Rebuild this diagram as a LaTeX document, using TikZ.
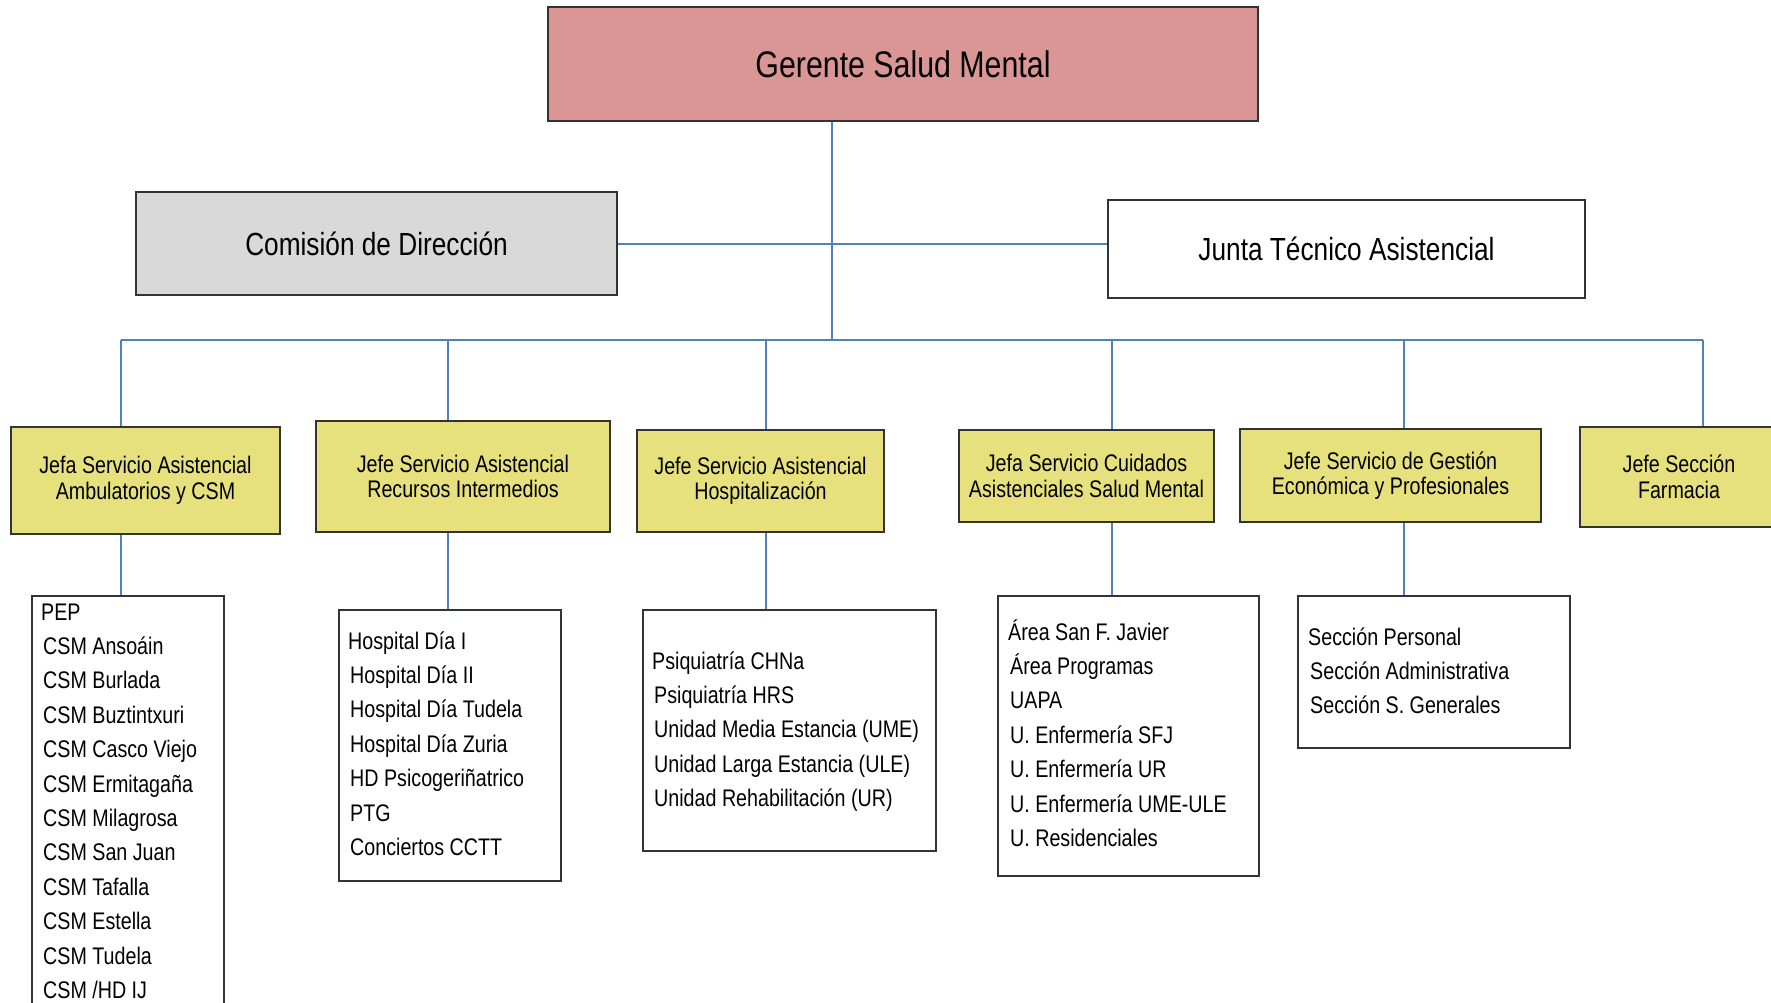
\documentclass[tikz,border=0pt]{standalone}
\usepackage{fontspec}
\setmainfont{Liberation Sans}[FakeStretch=0.82]
\definecolor{gerentecol}{RGB}{218,150,148}
\definecolor{jefecol}{RGB}{230,224,125}
\definecolor{comcol}{RGB}{217,217,217}
\definecolor{conncol}{RGB}{79,129,189}
\tikzset{
  box/.style={draw=black!80, line width=1.6pt, inner sep=0pt, align=center},
  jefebox/.style={box, fill=jefecol, font=\fontsize{24}{25.5}\selectfont},
  listbox/.style={draw=black!80, line width=1.4pt, inner sep=0pt},
  item/.style={anchor=base west, inner sep=0pt, font=\fontsize{24}{28}\selectfont},
  conn/.style={draw=conncol, line width=2pt},
}
\begin{document}
\begin{tikzpicture}[x=1pt,y=-1pt]
\useasboundingbox (0,0) rectangle (1771,1003);
% top level
\node[box, fill=gerentecol, minimum width=710pt, minimum height=114pt, font=\fontsize{37}{40}\selectfont] (ger) at (903,64) {Gerente Salud Mental};
\node[box, fill=comcol, minimum width=481pt, minimum height=103pt, font=\fontsize{32}{35}\selectfont] (com) at (376.5,243.5) {Comisión de Dirección};
\node[box, fill=white, minimum width=477pt, minimum height=98pt, font=\fontsize{32}{35}\selectfont] (jta) at (1346.5,249) {Junta Técnico Asistencial};
% jefes
\node[jefebox, minimum width=269pt, minimum height=107pt] (j1) at (145.5,480.5) {Jefa Servicio Asistencial\\Ambulatorios y CSM};
\node[jefebox, minimum width=294pt, minimum height=111pt] (j2) at (463,476.5) {Jefe Servicio Asistencial\\Recursos Intermedios};
\node[jefebox, minimum width=247pt, minimum height=102pt] (j3) at (760.5,481) {Jefe Servicio Asistencial\\Hospitalización};
\node[jefebox, minimum width=255pt, minimum height=92pt] (j4) at (1086.5,476) {Jefa Servicio Cuidados\\Asistenciales Salud Mental};
\node[jefebox, minimum width=301pt, minimum height=93pt] (j5) at (1390.5,475.5) {Jefe Servicio de Gestión\\Económica y Profesionales};
\node[jefebox, minimum width=198pt, minimum height=100pt] (j6) at (1679,477) {Jefe Sección\\Farmacia};
% list boxes
\node[listbox, minimum width=192pt, minimum height=414pt] (l1) at (128,803) {};
\node[listbox, minimum width=222pt, minimum height=271pt] (l2) at (450,745.5) {};
\node[listbox, minimum width=293pt, minimum height=241pt] (l3) at (789.5,730.5) {};
\node[listbox, minimum width=261pt, minimum height=280pt] (l4) at (1128.5,736) {};
\node[listbox, minimum width=272pt, minimum height=152pt] (l5) at (1434,672) {};
% list items
\foreach \t [count=\i from 0] in {PEP, CSM Ansoáin, CSM Burlada, CSM Buztintxuri, CSM Casco Viejo, CSM Ermitagaña, CSM Milagrosa, CSM San Juan, CSM Tafalla, CSM Estella, CSM Tudela, CSM /HD IJ}
  \node[item] (a\i) at ({\i==0 ? 41 : 43}, {620+34.4*\i}) {\t};
\foreach \t [count=\i from 0] in {Hospital Día I, Hospital Día II, Hospital Día Tudela, Hospital Día Zuria, HD Psicogeriñatrico, PTG, Conciertos CCTT}
  \node[item] (b\i) at ({\i==0 ? 348 : 350}, {649+34.4*\i}) {\t};
\foreach \t [count=\i from 0] in {Psiquiatría CHNa, Psiquiatría HRS, Unidad Media Estancia (UME), Unidad Larga Estancia (ULE), Unidad Rehabilitación (UR)}
  \node[item] (c\i) at ({\i==0 ? 652 : 654}, {669+34.4*\i}) {\t};
\foreach \t [count=\i from 0] in {Área San F. Javier, Área Programas, UAPA, U. Enfermería SFJ, U. Enfermería UR, U. Enfermería UME-ULE, U. Residenciales}
  \node[item] (e\i) at ({\i==0 ? 1008 : 1010}, {640+34.4*\i}) {\t};
\foreach \t [count=\i from 0] in {Sección Personal, Sección Administrativa, Sección S. Generales}
  \node[item] (f\i) at ({\i==0 ? 1308 : 1310}, {645.5+34*\i}) {\t};
% connectors
\coordinate (gd) at (832,340);
\coordinate (d1) at (121,340);
\coordinate (d2) at (448,340);
\coordinate (d3) at (766,340);
\coordinate (d4) at (1112,340);
\coordinate (d5) at (1404,340);
\coordinate (d6) at (1703,340);
\draw[conn] (gd |- ger.south) -- (gd);
\draw[conn] (com.east) -- (com.east -| jta.west);
\draw[conn] (d1) -- (d6);
\foreach \k in {1,...,6}
  \draw[conn] (d\k) -- (d\k |- j\k.north);
\foreach \k in {1,...,5}
  \draw[conn] (d\k |- j\k.south) -- (d\k |- l\k.north);
\end{tikzpicture}
\end{document}
